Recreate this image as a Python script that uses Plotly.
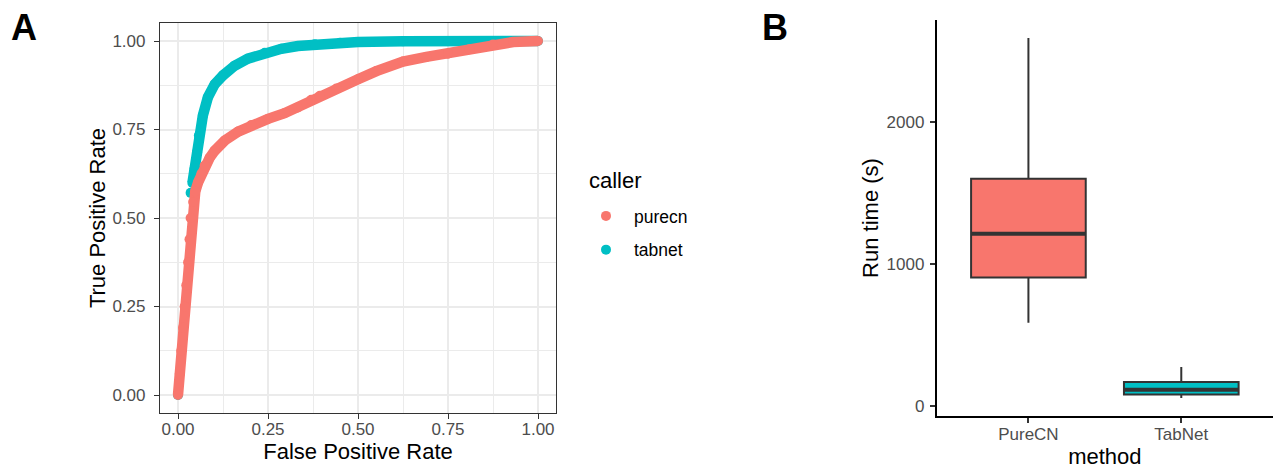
import plotly.graph_objects as go

# ---------------- Data ----------------
# Panel A: ROC curves
purecn_fpr = [0.0, 0.005, 0.009, 0.014, 0.0185, 0.023, 0.028, 0.032, 0.035, 0.042, 0.048, 0.056,
              0.065, 0.074, 0.088, 0.102, 0.130, 0.167, 0.204, 0.250, 0.296, 0.333, 0.370,
              0.394, 0.440, 0.500, 0.551, 0.625, 0.690, 0.750, 0.810, 0.875, 0.931, 1.0]
purecn_tpr = [0.0, 0.06, 0.125, 0.19, 0.25, 0.31, 0.375, 0.44, 0.50, 0.545, 0.575, 0.601,
              0.625, 0.648, 0.670, 0.690, 0.719, 0.744, 0.763, 0.780, 0.796, 0.812, 0.834,
              0.845, 0.866, 0.892, 0.915, 0.942, 0.955, 0.964, 0.977, 0.990, 0.997, 1.0]

# None separates disconnected runs of points
tabnet_fpr = [0.0, None, 0.035, None, 0.040, 0.046, 0.053, 0.058, 0.069, 0.083, 0.102, 0.125,
              0.157, 0.194, 0.241, 0.287, 0.333, 0.380, 0.45, 0.5, 0.625, 0.75, 1.0]
tabnet_tpr = [0.0, None, 0.571, None, 0.599, 0.639, 0.686, 0.733, 0.789, 0.841, 0.878, 0.903,
              0.930, 0.950, 0.967, 0.978, 0.986, 0.991, 0.995, 0.997, 0.999, 1.0, 1.0]

# Panel B: run time box plots
methods = ["PureCN", "TabNet"]
rt_lower = [586, 54]
rt_q1 = [904, 78]
rt_median = [1214, 113]
rt_q3 = [1602, 167]
rt_upper = [2595, 272]

ticks_a = [0, 0.25, 0.5, 0.75, 1.0]
ticks_b = [0, 1000, 2000]

# ---------------- Style ----------------
RED = "#F8766D"
CYAN = "#00BFC4"
FONT = "Liberation Sans, Arial, Helvetica, sans-serif"
TICKC = "#4D4D4D"
W, H = 1273, 470
PT = 10.5  # point diameter

fig = go.Figure()

# Panel A traces: tabnet first (drawn under), purecn on top
for name, fx, fy, col, rank in [("tabnet", tabnet_fpr, tabnet_tpr, CYAN, 2),
                                 ("purecn", purecn_fpr, purecn_tpr, RED, 1)]:
    fig.add_trace(go.Scatter(x=fx, y=fy, mode="lines", line=dict(color=col, width=PT),
                             showlegend=False, legendgroup=name, hoverinfo="skip",
                             connectgaps=False, xaxis="x", yaxis="y"))
    fig.add_trace(go.Scatter(x=fx, y=fy, mode="markers", name=name, legendgroup=name,
                             legendrank=rank,
                             marker=dict(color=col, size=PT - 0.5, line=dict(width=0)),
                             xaxis="x", yaxis="y"))

# Panel B traces
box_w = 0.75
for i, (m, col) in enumerate(zip(methods, [RED, CYAN])):
    xi = i + 1
    fig.add_trace(go.Box(x=[xi], q1=[rt_q1[i]], median=[rt_median[i]], q3=[rt_q3[i]],
                         lowerfence=[rt_lower[i]], upperfence=[rt_upper[i]],
                         width=box_w, whiskerwidth=0, fillcolor=col,
                         line=dict(color="#333333", width=2), boxpoints=False,
                         showlegend=False, xaxis="x2", yaxis="y2", name=m))
    fig.add_trace(go.Scatter(x=[xi - box_w / 2, xi + box_w / 2],
                             y=[rt_median[i], rt_median[i]], mode="lines",
                             line=dict(color="#333333", width=4), showlegend=False,
                             hoverinfo="skip", xaxis="x2", yaxis="y2"))

axA = dict(showline=True, mirror=True, linecolor="#333333", linewidth=1.2,
           ticks="outside", ticklen=5, tickwidth=1.2, tickcolor="#333333",
           showgrid=True, gridcolor="#EBEBEB", gridwidth=1.8, zeroline=False,
           tickfont=dict(size=17, color=TICKC, family=FONT),
           tickvals=ticks_a, ticktext=[f"{v:.2f}" for v in ticks_a],
           minor=dict(tick0=0.125, dtick=0.25, showgrid=True, gridcolor="#EBEBEB",
                      gridwidth=1.0, ticks=""),
           range=[-0.05, 1.05], automargin=False)

fig.update_layout(
    width=W, height=H,
    margin=dict(l=0, r=0, t=0, b=0),
    paper_bgcolor="white", plot_bgcolor="white",
    font=dict(family=FONT, color="black"),
    xaxis=dict(axA, domain=[160 / W, 556 / W], anchor="y", ticklabelstandoff=-4,
               title=dict(text="False Positive Rate", font=dict(size=22, color="black"),
                          standoff=0)),
    yaxis=dict(axA, domain=[(H - 412.7) / H, (H - 23.3) / H], anchor="x",
               ticklabelstandoff=5,
               title=dict(text="True Positive Rate", font=dict(size=22, color="black"),
                          standoff=0)),
    xaxis2=dict(domain=[936.7 / W, 1.0], anchor="y2", range=[0.4, 2.6],
                tickvals=[1, 2], ticktext=methods,
                showline=True, linecolor="black", linewidth=1.8,
                ticks="outside", ticklen=5, tickwidth=1.5, tickcolor="#333333",
                showgrid=False, zeroline=False, automargin=False, ticklabelstandoff=-3,
                tickfont=dict(size=17, color=TICKC, family=FONT),
                title=dict(text="method", font=dict(size=22, color="black"), standoff=5)),
    yaxis2=dict(domain=[(H - 416) / H, (H - 20) / H], anchor="x2", range=[-73, 2722],
                tickvals=ticks_b, ticktext=[str(v) for v in ticks_b],
                showline=True, linecolor="black", linewidth=1.8,
                ticks="outside", ticklen=5, tickwidth=1.5, tickcolor="#333333",
                showgrid=False, zeroline=False, automargin=False, ticklabelstandoff=2,
                tickfont=dict(size=17, color=TICKC, family=FONT),
                title=dict(text="Run time (s)", font=dict(size=22, color="black"), standoff=2)),
    legend=dict(x=578 / W, y=(H - 198) / H, xanchor="left", yanchor="top",
                itemwidth=46,
                font=dict(size=17.5, color="black", family=FONT),
                traceorder="grouped", tracegroupgap=8, bgcolor="rgba(0,0,0,0)"),
    annotations=[
        dict(text="caller", x=587 / W, y=(H - 180) / H, xref="paper", yref="paper",
             showarrow=False, font=dict(size=22, color="black", family=FONT),
             xanchor="left", yanchor="middle"),
        dict(text="<b>A</b>", x=24 / W, y=(H - 27) / H, xref="paper", yref="paper",
             showarrow=False, font=dict(size=36, color="black", family=FONT),
             xanchor="center", yanchor="middle"),
        dict(text="<b>B</b>", x=775 / W, y=(H - 27) / H, xref="paper", yref="paper",
             showarrow=False, font=dict(size=36, color="black", family=FONT),
             xanchor="center", yanchor="middle"),
    ],
)

fig.write_html("out.html", config={"displayModeBar": False},
               post_script="document.body.style.margin='0';document.body.style.overflow='hidden';")
